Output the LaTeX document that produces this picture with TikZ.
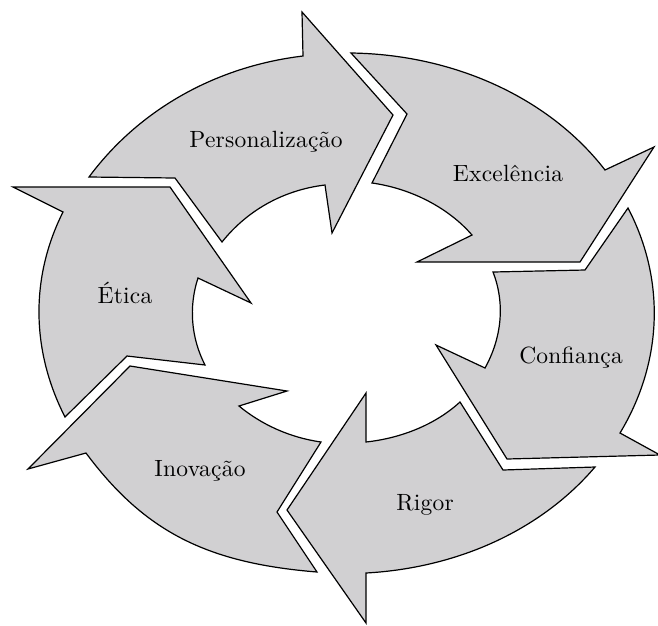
\documentclass[tikz,border=0pt]{standalone}
\usepackage{fontspec}
\usepackage{tikz}
\newfontfamily\segfont{lmroman10-regular.otf}[LetterSpace=1]
\definecolor{segfill}{RGB}{209,208,210}
\begin{document}
\begin{tikzpicture}[x=1pt,y=1pt,yscale=-1,
  segment/.style={draw=black, line width=1.2pt, line join=miter, fill=segfill},
  segtext/.style={anchor=base, inner sep=0pt, text=black, font=\segfont\fontsize{23.5}{28}\selectfont}]
\useasboundingbox (0,0) rectangle (658,625);
\fill[white] (0,0) rectangle (658,625);
\begin{scope}
\clip (0,0) rectangle (658,625);
% Personalizacao (top, pointing right)
\draw[segment] (89,177) -- (175,178) -- (222,242)
  .. controls (246.3,211.5) and (281.9,190.2) .. (325,185)
  -- (332,233) -- (393,115) -- (302,12) -- (303,56)
  .. controls (213.0,66.8) and (137.4,111.8) .. (89,177)
  -- cycle;
% Excelencia (upper right)
\draw[segment] (351,53) -- (407,114) -- (372,183)
  .. controls (411.5,188.6) and (448.3,207.7) .. (472,235)
  -- (417,262) -- (580,262) -- (654,147) -- (605,170)
  .. controls (548.9,97.4) and (453.4,54.4) .. (351,53)
  -- cycle;
% Confianca (right, turning down)
\draw[segment] (628,208) -- (585,270) -- (493,272)
  .. controls (505.3,303.6) and (501.7,337.9) .. (485,368)
  -- (436,345) -- (507,459) -- (660,455) -- (620,433)
  .. controls (662.5,362.6) and (665.8,280.3) .. (628,208)
  -- cycle;
% Rigor (bottom, pointing left)
\draw[segment] (595,467) -- (503,470) -- (460,402)
  .. controls (435.5,424.4) and (401.7,438.1) .. (366,442)
  -- (366,393) -- (287,510) -- (366,623) -- (366,573)
  .. controls (457.8,567.9) and (541.0,530.2) .. (595,467)
  -- cycle;
% Inovacao (lower left, turning up)
\draw[segment] (317,572) -- (277,512) -- (321,442)
  .. controls (290.0,437.6) and (261.5,424.6) .. (239,406)
  -- (287,391) -- (130,366) -- (28,469) -- (86,453)
  .. controls (144.8,532.0) and (207.3,563.1) .. (317,572)
  -- cycle;
% Etica (left, pointing up)
\draw[segment] (65,417) -- (127,356) -- (205,365)
  .. controls (191.0,337.7) and (188.6,306.7) .. (198,278)
  -- (251,303) -- (170,187) -- (13,187) -- (63,212)
  .. controls (29.9,278.0) and (31.4,351.2) .. (65,417)
  -- cycle;
\end{scope}
\node[segtext] (personalizacao) at (266,147) {Personalização};
\node[segtext] (excelencia) at (508,181) {Excelência};
\node[segtext] (confianca) at (571,363) {Confiança};
\node[segtext] (rigor) at (425,510) {Rigor};
\node[segtext] (inovacao) at (200,476) {Inovação};
\node[segtext] (etica) at (125,303) {Ética};
\end{tikzpicture}
\end{document}
